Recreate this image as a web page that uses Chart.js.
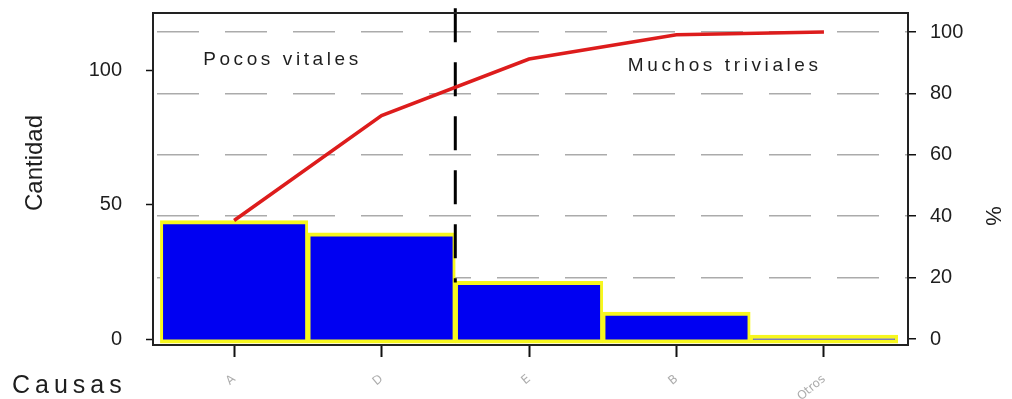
<!DOCTYPE html>
<html lang="es">
<head>
<meta charset="UTF-8">
<title>Diagrama de Pareto</title>
<style>
    body { margin: 0; background: #fff; }
    .grafico { width: 1012px; height: 399px; }
</style>
</head>
<body>
<div class="grafico"><canvas id="myChart" width="1012" height="399"></canvas></div>

<script src="https://cdn.jsdelivr.net/npm/chart.js"></script>
<script>
// datos
const causas = ['A', 'D', 'E', 'B', 'Otros'];
const cantidad = [44, 39.5, 21.5, 10, 1.5];
const acumulado = [38.6, 72.8, 91.2, 99.1, 100];
const ticksCantidad = [0, 50, 100];
const ticksPct = [0, 20, 40, 60, 80, 100];
const corte = 1.5; // entre D y E

const fuente = '"Liberation Sans", Arial, sans-serif';

// quitar el relleno automático de las etiquetas para fijar el área del gráfico
const sinPadding = s => { s.paddingTop = 0; s.paddingBottom = 0; s.paddingLeft = 0; s.paddingRight = 0; };

const extras = {
    id: 'extras',
    afterDatasetsDraw(chart) {
        const { ctx, chartArea: a, scales } = chart;
        ctx.save();
        ctx.strokeStyle = '#222';
        ctx.lineWidth = 2;
        ctx.strokeRect(a.left, a.top, a.right - a.left, a.bottom - a.top);

        ctx.fillStyle = '#1e1e1e';
        ctx.textBaseline = 'middle';
        ctx.font = '19px ' + fuente;
        ctx.letterSpacing = '3.6px';
        ctx.fillText('Pocos vitales', scales.x.getPixelForValue(-0.21), scales.y.getPixelForValue(103.7));
        ctx.fillText('Muchos triviales', scales.x.getPixelForValue(2.67), scales.y.getPixelForValue(101.5));

        ctx.font = '25px ' + fuente;
        ctx.letterSpacing = '5px';
        ctx.textBaseline = 'alphabetic';
        ctx.fillText('Causas', 12, 393);

        ctx.letterSpacing = '0px';
        ctx.textAlign = 'center';
        ctx.textBaseline = 'middle';
        ctx.font = '24px ' + fuente;
        ctx.translate(35, 163);
        ctx.rotate(-Math.PI / 2);
        ctx.fillText('Cantidad', 0, 0);
        ctx.restore();

        ctx.save();
        ctx.fillStyle = '#1e1e1e';
        ctx.font = '22px ' + fuente;
        ctx.textAlign = 'center';
        ctx.textBaseline = 'middle';
        ctx.translate(992, 216);
        ctx.rotate(Math.PI / 2);
        ctx.fillText('%', 0, 0);
        ctx.restore();
    }
};

const ctx = document.getElementById('myChart');

new Chart(ctx, {
    data: {
        datasets: [{
            type: 'line',
            label: '% acumulado',
            data: acumulado.map((v, i) => ({ x: i, y: v })),
            yAxisID: 'y1',
            borderColor: '#dd1c1c',
            borderWidth: 3.5,
            pointRadius: 0,
            tension: 0,
            order: 0
        }, {
            type: 'line',
            label: 'corte',
            data: [{ x: corte, y: 123 }, { x: corte, y: 21 }],
            yAxisID: 'y',
            borderColor: '#000',
            borderWidth: 3,
            borderDash: [34, 20],
            pointRadius: 0,
            clip: false,
            order: 1
        }, {
            type: 'bar',
            label: 'Cantidad',
            data: cantidad.map((v, i) => ({ x: i, y: v })),
            yAxisID: 'y',
            base: -1.5,
            backgroundColor: '#0000f2',
            borderColor: '#f7f71e',
            borderWidth: { top: 4, left: 3, right: 3, bottom: 4 },
            borderSkipped: false,
            barPercentage: 1,
            categoryPercentage: 1,
            order: 2
        }]
    },
    options: {
        responsive: false,
        animation: false,
        layout: { padding: { top: 13, left: 0, right: 0, bottom: 0 } },
        plugins: { legend: { display: false }, tooltip: { enabled: false } },
        scales: {
            x: {
                type: 'linear',
                offset: false,
                min: -0.55,
                max: 4.57,
                afterFit: s => { s.height = 54; sinPadding(s); },
                afterBuildTicks: s => { s.ticks = causas.map((c, i) => ({ value: i })); },
                border: { display: false },
                grid: { offset: false, drawOnChartArea: false, tickLength: 12, tickColor: '#111', tickWidth: 2 },
                ticks: {
                    callback: v => causas[v],
                    autoSkip: false,
                    minRotation: 40,
                    maxRotation: 40,
                    padding: 15,
                    color: '#adadad',
                    font: { family: 'DejaVu Sans', size: 12 }
                }
            },
            y: {
                position: 'left',
                min: -2.2,
                max: 121.2,
                afterFit: s => { s.width = 153; sinPadding(s); },
                afterBuildTicks: s => { s.ticks = ticksCantidad.map(v => ({ value: v })); },
                border: { display: false },
                grid: { drawOnChartArea: false, tickLength: 7, tickColor: '#111', tickWidth: 1.5 },
                ticks: { padding: 24, color: '#1e1e1e', font: { family: fuente, size: 20 } }
            },
            y1: {
                position: 'right',
                min: -1.95,
                max: 106.2,
                afterFit: s => { s.width = 104; sinPadding(s); },
                afterBuildTicks: s => { s.ticks = ticksPct.map(v => ({ value: v })); },
                border: { display: false, dash: [42, 26], dashOffset: -4 },
                grid: {
                    color: c => c.tick && c.tick.value === 0 ? 'rgba(0,0,0,0)' : '#ababab',
                    lineWidth: 1.5,
                    tickLength: 8,
                    tickColor: '#111',
                    tickWidth: 1.5,
                    tickBorderDash: []
                },
                ticks: { padding: 14, color: '#1e1e1e', font: { family: fuente, size: 20 } }
            }
        }
    },
    plugins: [extras]
});
</script>
</body>
</html>
